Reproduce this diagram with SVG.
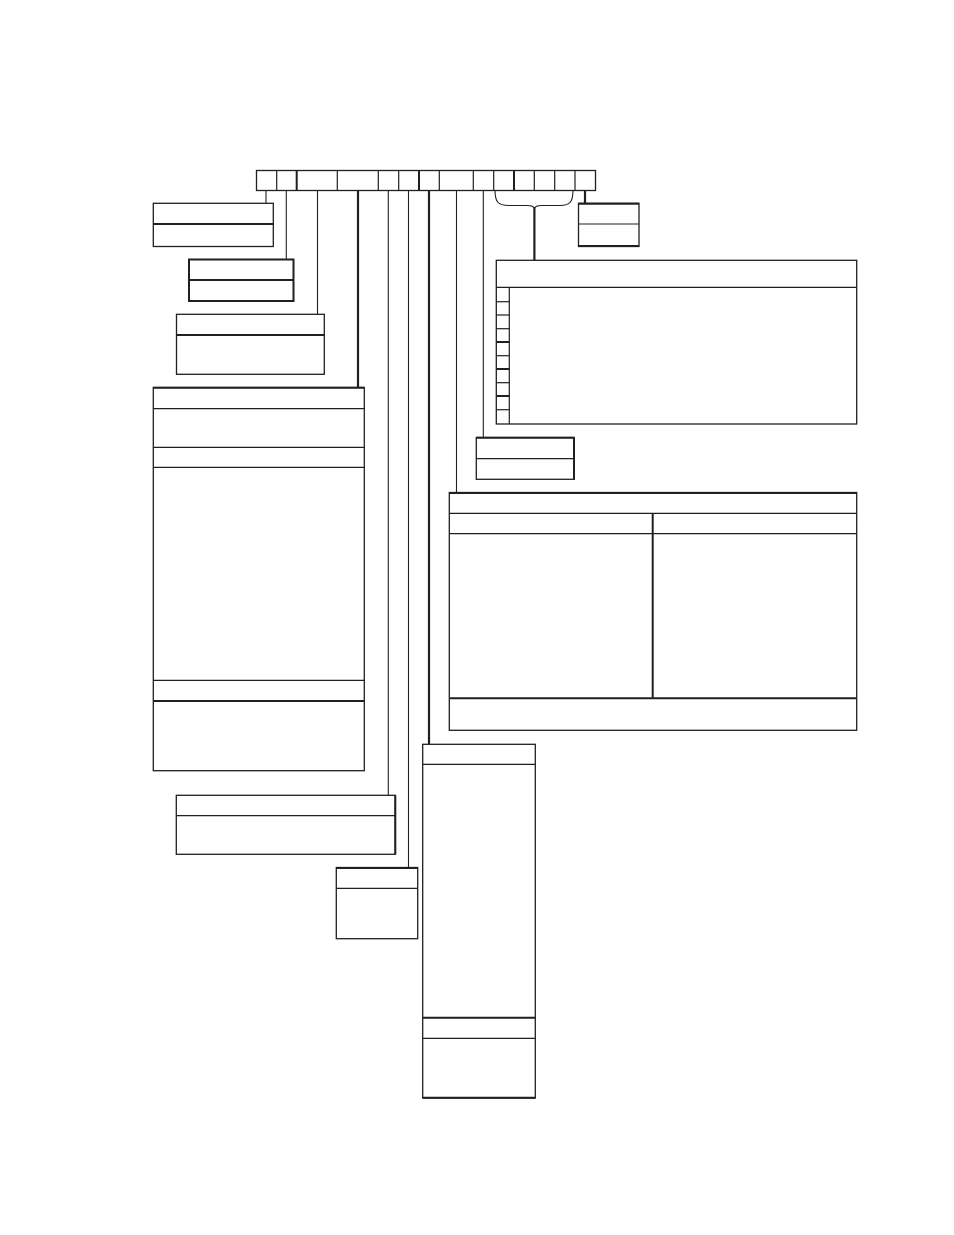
<svg xmlns="http://www.w3.org/2000/svg" width="954" height="1235" viewBox="0 0 954 1235">
<style>
.b{fill:#fff;stroke:#231f20;stroke-width:1.3}
.bt{fill:#fff;stroke:#231f20;stroke-width:2}
.d{stroke:#231f20;stroke-width:1.2;fill:none}
.dt{stroke:#231f20;stroke-width:2;fill:none}
.c{stroke:#231f20;stroke-width:1.1;fill:none}
.ct{stroke:#231f20;stroke-width:2.2;fill:none}
</style>
<rect width="954" height="1235" fill="#fff"/>
<g id="connectors">
<line class="c" x1="266" y1="190" x2="266" y2="203"/>
<line class="c" x1="286.3" y1="190" x2="286.3" y2="259.5"/>
<line class="c" x1="317.5" y1="190" x2="317.5" y2="314"/>
<line class="ct" x1="358" y1="190" x2="358" y2="388"/>
<line class="c" x1="388.3" y1="190" x2="388.3" y2="795"/>
<line class="c" x1="408.5" y1="190" x2="408.5" y2="867"/>
<line class="ct" x1="429" y1="190" x2="429" y2="744"/>
<line class="c" x1="456.5" y1="190" x2="456.5" y2="492"/>
<line class="c" x1="483.3" y1="190" x2="483.3" y2="437"/>
<path class="c" stroke="#555" d="M495,190 C495,202 498,205.5 509,205.5 L527,205.5 C532,205.5 534,206.5 534.4,208.5 C534.8,206.5 537,205.5 542,205.5 L560,205.5 C570,205.5 573,202 573,190"/>
<line class="ct" x1="534.4" y1="207" x2="534.4" y2="260"/>
<line class="ct" x1="585" y1="190" x2="585" y2="203"/>
</g>
<g id="header">
<rect class="b" x="256.5" y="170.5" width="339" height="20"/>
<g class="d">
<line x1="276.7" y1="170.5" x2="276.7" y2="190.5"/>
<line x1="337.3" y1="170.5" x2="337.3" y2="190.5"/>
<line x1="378.3" y1="170.5" x2="378.3" y2="190.5"/>
<line x1="398.7" y1="170.5" x2="398.7" y2="190.5"/>
<line x1="439.3" y1="170.5" x2="439.3" y2="190.5"/>
<line x1="473.3" y1="170.5" x2="473.3" y2="190.5"/>
<line x1="493.7" y1="170.5" x2="493.7" y2="190.5"/>
<line x1="534.3" y1="170.5" x2="534.3" y2="190.5"/>
<line x1="554.7" y1="170.5" x2="554.7" y2="190.5"/>
<line x1="575" y1="170.5" x2="575" y2="190.5"/>
</g>
<g class="dt">
<line x1="296.7" y1="170.5" x2="296.7" y2="190.5"/>
<line x1="419" y1="170.5" x2="419" y2="190.5"/>
<line x1="514" y1="170.5" x2="514" y2="190.5"/>
</g>
</g>
<g id="box1">
<rect class="b" x="153.3" y="203.3" width="120" height="43.2"/>
<line class="dt" x1="153.3" y1="224" x2="273.3" y2="224"/>
</g>
<g id="box2">
<rect class="bt" x="189" y="259.5" width="104.5" height="41.5"/>
<line class="dt" x1="189" y1="280" x2="293.5" y2="280"/>
</g>
<g id="box3">
<rect class="b" x="176.5" y="314.3" width="147.8" height="60"/>
<line class="dt" x1="176.5" y1="335" x2="324.3" y2="335"/>
</g>
<g id="box4">
<rect class="b" x="153.3" y="387.5" width="211" height="383.2"/>
<line class="dt" x1="153.3" y1="387.8" x2="364.3" y2="387.8"/>
<line class="d" x1="153.3" y1="408.7" x2="364.3" y2="408.7"/>
<line class="d" x1="153.3" y1="447.3" x2="364.3" y2="447.3"/>
<line class="d" x1="153.3" y1="467.3" x2="364.3" y2="467.3"/>
<line class="d" x1="153.3" y1="680.3" x2="364.3" y2="680.3"/>
<line class="dt" x1="153.3" y1="701" x2="364.3" y2="701"/>
</g>
<g id="box5">
<rect class="b" x="176.3" y="795.3" width="219" height="59"/>
<line class="dt" x1="395.3" y1="795.3" x2="395.3" y2="854.3"/>
<line class="d" x1="176.3" y1="815.7" x2="395.3" y2="815.7"/>
</g>
<g id="box6">
<rect class="b" x="336.3" y="867.5" width="81.4" height="71.2"/>
<line class="dt" x1="336.3" y1="868" x2="417.7" y2="868"/>
<line class="d" x1="336.3" y1="888.3" x2="417.7" y2="888.3"/>
</g>
<g id="box7">
<rect class="b" x="422.7" y="744.3" width="112.6" height="353.7"/>
<line class="d" x1="422.7" y1="764.3" x2="535.3" y2="764.3"/>
<line class="dt" x1="422.7" y1="1017.7" x2="535.3" y2="1017.7"/>
<line class="d" x1="422.7" y1="1038.3" x2="535.3" y2="1038.3"/>
<line class="dt" x1="422.7" y1="1097.7" x2="535.3" y2="1097.7"/>
</g>
<g id="box8">
<rect class="b" x="476.3" y="437.5" width="98" height="41.8"/>
<line class="dt" x1="476.3" y1="437.8" x2="574.3" y2="437.8"/>
<line class="dt" x1="574" y1="437.5" x2="574" y2="479.3"/>
<line class="d" x1="476.3" y1="458.7" x2="574.3" y2="458.7"/>
</g>
<g id="box9">
<rect class="b" x="449.3" y="492.5" width="407.4" height="237.8"/>
<line class="dt" x1="449.3" y1="493" x2="856.7" y2="493"/>
<line class="d" x1="449.3" y1="513.3" x2="856.7" y2="513.3"/>
<line class="d" x1="449.3" y1="533.7" x2="856.7" y2="533.7"/>
<line class="dt" x1="652.7" y1="513.3" x2="652.7" y2="698.3"/>
<line class="dt" x1="449.3" y1="698.3" x2="856.7" y2="698.3"/>
</g>
<g id="box10">
<rect class="b" x="496.3" y="260.3" width="360.4" height="163.7"/>
<line class="d" x1="496.3" y1="287.3" x2="856.7" y2="287.3"/>
<line class="d" x1="509.3" y1="287.3" x2="509.3" y2="424"/>
<g class="d">
<line x1="496.3" y1="301.7" x2="509.3" y2="301.7"/>
<line x1="496.3" y1="315" x2="509.3" y2="315"/>
<line x1="496.3" y1="328.7" x2="509.3" y2="328.7"/>
<line x1="496.3" y1="355.7" x2="509.3" y2="355.7"/>
<line x1="496.3" y1="382.7" x2="509.3" y2="382.7"/>
<line x1="496.3" y1="409.7" x2="509.3" y2="409.7"/>
</g>
<g class="dt">
<line x1="496.3" y1="342" x2="509.3" y2="342"/>
<line x1="496.3" y1="369" x2="509.3" y2="369"/>
<line x1="496.3" y1="396" x2="509.3" y2="396"/>
</g>
</g>
<g id="box11">
<rect class="b" x="578.5" y="203.3" width="60.5" height="43.2"/>
<line class="dt" x1="578.5" y1="203.8" x2="639" y2="203.8"/>
<line class="dt" x1="578.5" y1="246" x2="639" y2="246"/>
<line class="d" x1="578.5" y1="224" x2="639" y2="224"/>
</g>
</svg>
